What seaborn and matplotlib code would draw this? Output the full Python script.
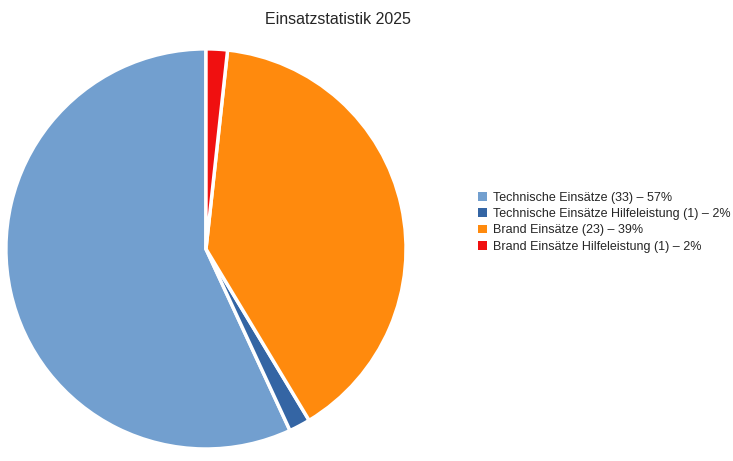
import matplotlib

matplotlib.use("Agg")

import matplotlib.pyplot as plt
from matplotlib.patches import Patch
import seaborn as sns

categories = [
    "Technische Einsätze (33) – 57%",
    "Technische Einsätze Hilfeleistung (1) – 2%",
    "Brand Einsätze (23) – 39%",
    "Brand Einsätze Hilfeleistung (1) – 2%",
]
counts = [33, 1, 23, 1]
colors = ["#729fcf", "#3465a4", "#ff8a0d", "#f01010"]

sns.set_theme(style="white")
plt.rcParams["font.family"] = ["Liberation Sans", "DejaVu Sans"]

fig = plt.figure(figsize=(7.33, 4.61), dpi=100)
ax = fig.add_axes([0.008, 0.026, 0.546, 0.868])
ax.pie(
    counts,
    colors=colors,
    startangle=90,
    counterclock=True,
    wedgeprops={"edgecolor": "white", "linewidth": 2.5},
)
ax.set_xlim(-1.0, 1.0)
ax.set_ylim(-1.0, 1.0)
ax.set_aspect("equal")

fig.text(0.461, 0.975, "Einsatzstatistik 2025", ha="center", va="top", fontsize=11.5)

handles = [Patch(facecolor=c, edgecolor="none") for c in colors]
fig.legend(
    handles,
    categories,
    loc="upper left",
    bbox_to_anchor=(0.645, 0.595),
    frameon=False,
    fontsize=9,
    handlelength=0.7,
    handleheight=0.7,
    handletextpad=0.5,
    labelspacing=0.35,
    borderaxespad=0,
)

fig.savefig("out.png", dpi=100, facecolor="white")
